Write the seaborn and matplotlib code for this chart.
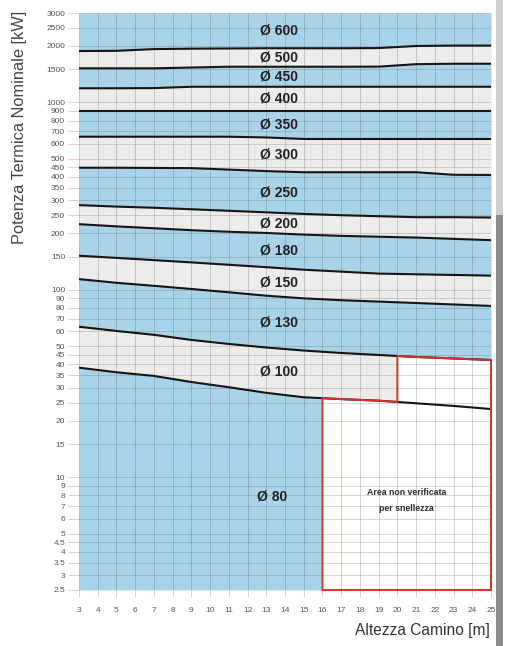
import numpy as np
import pandas as pd
import matplotlib
matplotlib.use("Agg")
import matplotlib.pyplot as plt
from matplotlib.patches import Polygon, Rectangle
from matplotlib.ticker import FixedLocator, FixedFormatter, NullLocator
import seaborn as sns

# Chimney height grid [m]
heights = [3, 5, 7, 9, 11, 13, 15, 17, 19, 21, 23, 25]

# Upper power limit [kW] of each flue diameter along the chimney height
limit_80 = [38.4, 36.3, 34.7, 32.2, 30.2, 28.2, 26.7, 26.1, 25.6, 24.8, 24.0, 23.1]
limit_100 = [63.5, 60.3, 57.5, 54.0, 51.4, 49.2, 47.4, 46.0, 44.9, 43.8, 43.0, 42.2]
limit_130 = [114, 109, 105, 101, 97, 93, 90, 88, 86.5, 85, 83.5, 82]
limit_150 = [152, 148, 144, 140, 136, 132, 128, 125, 122, 121, 120, 119]
limit_180 = [224, 218, 213, 208, 204, 201, 197, 194, 192, 190, 187, 184]
limit_200 = [283, 278, 274, 269, 264, 259, 254, 250, 247, 244, 244, 243]
limit_250 = [448, 448, 447, 446, 438, 430, 424, 424, 424, 424, 411, 410]
limit_300 = [656, 656, 656, 656, 656, 650, 638, 638, 638, 638, 638, 638]
limit_350 = [900, 900, 900, 900, 900, 900, 900, 900, 900, 900, 900, 900]
limit_400 = [1190, 1190, 1192, 1212, 1212, 1212, 1212, 1212, 1212, 1212, 1212, 1212]
limit_450 = [1520, 1520, 1520, 1535, 1550, 1550, 1550, 1550, 1552, 1600, 1608, 1608]
limit_500 = [1880, 1885, 1925, 1935, 1940, 1945, 1945, 1945, 1950, 2000, 2010, 2010]

diameters = ["Ø 80", "Ø 100", "Ø 130", "Ø 150", "Ø 180", "Ø 200", "Ø 250",
             "Ø 300", "Ø 350", "Ø 400", "Ø 450", "Ø 500", "Ø 600"]
limits = [limit_80, limit_100, limit_130, limit_150, limit_180, limit_200,
          limit_250, limit_300, limit_350, limit_400, limit_450, limit_500]

# Axis ticks
y_ticks = [2.5, 3, 3.5, 4, 4.5, 5, 6, 7, 8, 9, 10, 15, 20, 25, 30, 35, 40, 45,
           50, 60, 70, 80, 90, 100, 150, 200, 250, 300, 350, 400, 450, 500,
           600, 700, 800, 900, 1000, 1500, 2000, 2500, 3000]
y_tick_labels = ["2.5", "3", "3.5", "4", "4.5", "5", "6", "7", "8", "9", "10",
                 "15", "20", "25", "30", "35", "40", "45", "50", "60", "70",
                 "80", "90", "100", "150", "200", "250", "300", "350", "400",
                 "450", "500", "600", "700", "800", "900", "1000", "1500",
                 "2000", "2500", "3000"]
x_ticks = list(range(3, 26))

# Region not verified for slenderness: heights 16..25 m below Ø 80 limit,
# heights 20..25 m below Ø 100 limit
slender_from_80 = 16
slender_from_100 = 20

Y_MIN, Y_MAX = 2.5, 3000
BLUE = "#a9d3e9"
GREY = "#ececea"

sns.set_theme(style="white")
plt.rcParams["font.family"] = ["Liberation Sans", "DejaVu Sans"]

fig = plt.figure(figsize=(5.06, 6.46), dpi=100)
ax = fig.add_axes([79 / 506, 56 / 646, 412 / 506, 577 / 646])
ax.set_yscale("log")
ax.set_xlim(3, 25)
ax.set_ylim(Y_MIN, Y_MAX)

x = np.array(heights, dtype=float)
bounds = [np.full_like(x, Y_MIN)] + [np.array(l, dtype=float) for l in limits] \
    + [np.full_like(x, Y_MAX)]

# Alternating bands, one per diameter
for i in range(len(diameters)):
    ax.fill_between(x, bounds[i], bounds[i + 1], color=BLUE if i % 2 == 0 else GREY,
                    lw=0, zorder=1)


def log_interp(xq, series):
    return float(np.exp(np.interp(xq, x, np.log(series))))


# White area not verified for slenderness
poly = [(slender_from_80, Y_MIN), (slender_from_80, log_interp(slender_from_80, bounds[1]))]
poly += [(h, v) for h, v in zip(x, bounds[1]) if slender_from_80 < h < slender_from_100]
poly += [(slender_from_100, log_interp(slender_from_100, bounds[1])),
         (slender_from_100, log_interp(slender_from_100, bounds[2]))]
poly += [(h, v) for h, v in zip(x, bounds[2]) if h > slender_from_100]
poly += [(25, Y_MIN)]
ax.add_patch(Polygon(poly, closed=True, facecolor="white", edgecolor="none", zorder=2))

# Grid
ax.vlines(x_ticks, Y_MIN, Y_MAX, color="#3c4650", alpha=0.24, lw=0.7, zorder=3)
ax.hlines(y_ticks, 3, 25, color="#3c4650", alpha=0.2, lw=0.7, zorder=3)

# Limit curves
df = pd.DataFrame({
    "height": np.tile(x, len(limits)),
    "power": np.concatenate([np.array(l, dtype=float) for l in limits]),
    "diameter": np.repeat(diameters[:-1], len(x)),
})
sns.lineplot(data=df, x="height", y="power", units="diameter", estimator=None,
             color="#151515", lw=1.5, ax=ax, legend=False, zorder=4)

ax.add_patch(Polygon(poly, closed=True, facecolor="none", edgecolor="#d9302a",
                     lw=1.4, zorder=5, joinstyle="miter", clip_on=False))

ax.text(20.5, 7.5, "Area non verificata\nper snellezza", ha="center", va="center",
        fontsize=6.3, fontweight="bold", color="#2a2a2a", linespacing=1.9, zorder=6)

# Diameter labels
for i, name in enumerate(diameters):
    lo = log_interp(13.7, bounds[i])
    hi = log_interp(13.7, bounds[i + 1])
    ymid = np.sqrt(lo * hi)
    xpos = 13.7
    if i == 0:
        ymid = 7.85
        xpos = 13.3
    ax.text(xpos, ymid, name, ha="center", va="center", fontsize=10,
            fontweight="bold", color="#222222", zorder=6)

# Axes styling
ax.yaxis.set_major_locator(FixedLocator(y_ticks))
ax.yaxis.set_major_formatter(FixedFormatter(y_tick_labels))
ax.yaxis.set_minor_locator(NullLocator())
ax.xaxis.set_major_locator(FixedLocator(x_ticks))
ax.xaxis.set_major_formatter(FixedFormatter([str(t) for t in x_ticks]))
ax.tick_params(axis="y", which="major", length=8, width=0.6, color="#e6c3c3",
               labelsize=6, labelcolor="#555555", pad=2, left=True)
ax.tick_params(axis="x", which="major", length=5, width=0.6, color="#e6c3c3",
               labelsize=6, labelcolor="#555555", pad=7, bottom=True)
for s in ax.spines.values():
    s.set_visible(False)
ax.set_xlabel("")
ax.set_ylabel("")

fig.text(20 / 506, 1 - 11 / 646, "Potenza Termica Nominale [kW]", rotation=90,
         ha="center", va="top", fontsize=11.8, color="#444444")
fig.text(490 / 506, 1 - 631 / 646, "Altezza Camino [m]", ha="right", va="center",
         fontsize=11.2, color="#333333")

# Page edge on the right
fig.patches.append(Rectangle((496 / 506, 431 / 646), 7 / 506, 215 / 646,
                             transform=fig.transFigure, facecolor="#cfcfcf",
                             edgecolor="none"))
fig.patches.append(Rectangle((496 / 506, 0), 7 / 506, 431 / 646,
                             transform=fig.transFigure, facecolor="#8c8c8c",
                             edgecolor="none"))

fig.savefig("out.png", dpi=100)
